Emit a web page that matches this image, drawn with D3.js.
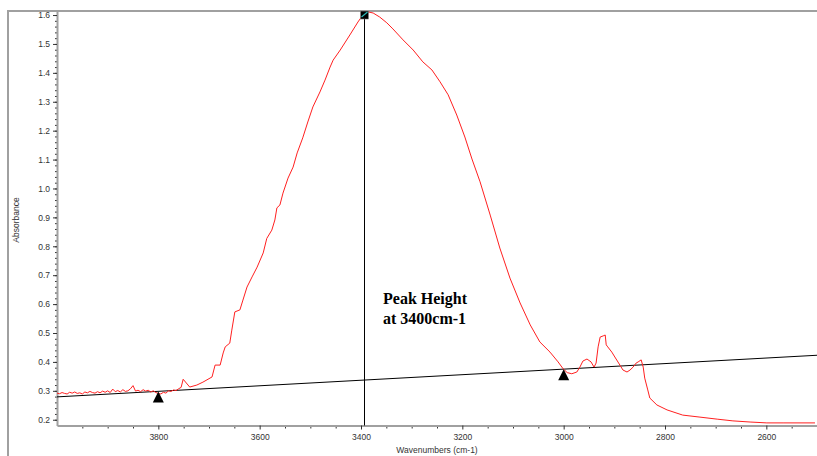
<!DOCTYPE html>
<html>
  <head>
    <meta charset="utf-8">
    <title>Peak Height</title>
    <style>
      body { margin: 0; background: white; }
      svg { display: block; }
      .axis text { font: 8.5px "Liberation Sans", Arial, sans-serif; fill: #333; }
      .axis path { stroke: #a0a0a0; stroke-width: 2; }
      .axis line { stroke: #333; }
      .axisLabel { font: 8.5px "Liberation Sans", Arial, sans-serif; fill: #333; }
      .note { font: bold 16px "Liberation Serif", "Times New Roman", serif; fill: #000; }
    </style>
  </head>
  <body>
  <svg id="chart"></svg>
  <script src="https://d3js.org/d3.v7.min.js"></script>
  <script>

  // spectrum: wavenumber (cm-1) and absorbance
  var wavenumbers = [4000,3995,3990,3985,3980,3975,3970,3965,3960,3955,3950,3945,3940,3935,3930,3925,3920,3915,3910,3905,3900,3895,3890,3885,3880,3875,3870,3865,3860,3855,3850,3845,3840,3835,3830,3825,3820,3815,3810,3805,3800,3795,3790,3785,3780,3775,3770,3765,3760,3755,
    3751,3738,3724,3712,3694,3688,3678,3672,3668,3659,3655,3649,3639,3633,3625,3615,3605,3593,3586,
    3576,3570,3566,3560,3554,3544,3534,3526,3515,3505,3495,3481,3471,3461,3455,3441,3422,3406,3396,3386,3376,3363,3349,3337,3317,3297,3278,3260,3244,3228,3211,3195,3181,
    3165,3145,3126,3106,3086,3066,3047,3027,3011,3001,2993,2984,2974,2968,2962,2954,2946,2940,2936,2932,2928,2922,2918,2916,2913,2905,2899,2889,2883,2875,2869,2863,2857,2853,2847,2843,2840,2834,2830,
    2816,2796,2765,2731,2697,2666,2632,2599,2567,2504];
  var absorbance = [0.292,0.290,0.294,0.291,0.289,0.295,0.292,0.296,0.291,0.293,0.289,0.296,0.293,0.298,0.294,0.292,0.297,0.293,0.299,0.295,0.300,0.294,0.306,0.297,0.301,0.296,0.304,0.298,0.300,0.307,0.318,0.299,0.302,0.297,0.304,0.299,0.302,0.296,0.300,0.294,0.291,0.289,0.295,0.292,0.300,0.298,0.303,0.301,0.307,0.312,
    0.340,0.313,0.320,0.330,0.348,0.389,0.389,0.431,0.452,0.465,0.510,0.573,0.580,0.614,0.659,0.694,0.728,0.777,0.827,
    0.856,0.891,0.933,0.943,0.984,1.036,1.074,1.123,1.175,1.230,1.282,1.334,1.375,1.420,1.444,1.479,1.531,1.576,1.601,1.611,1.607,1.593,1.573,1.552,1.514,1.479,1.438,1.410,1.369,1.324,1.254,1.178,1.102,
    1.023,0.908,0.794,0.690,0.604,0.528,0.469,0.434,0.400,0.376,0.363,0.359,0.365,0.382,0.403,0.410,0.400,0.382,0.396,0.452,0.486,0.490,0.493,0.459,0.452,0.434,0.417,0.389,0.372,0.365,0.372,0.382,0.396,0.400,0.407,0.382,0.344,0.303,0.275,
    0.251,0.234,0.216,0.209,0.202,0.196,0.192,0.189,0.189,0.189];

  // baseline drawn under the peak
  var baselineX = [4000, 2500];
  var baselineY = [0.279, 0.423];

  // baseline anchor points and the peak
  var anchorX = [3800, 3000];
  var anchorY = [0.298, 0.375];
  var peakX = 3394;
  var peakY = 1.600;

  var xTicks = [3800, 3600, 3400, 3200, 3000, 2800, 2600];
  var yTicks = [0.2, 0.3, 0.4, 0.5, 0.6, 0.7, 0.8, 0.9, 1.0, 1.1, 1.2, 1.3, 1.4, 1.5, 1.6];
  var noteLines = ["Peak Height", "at 3400cm-1"];

  var width = 817, height = 456;
  var margin = {top: 11, right: 0, bottom: 30.5, left: 57};

  var svg = d3.select("#chart")
    .attr("width", width)
    .attr("height", height);

  var x = d3.scaleLinear()
    .domain([4000, 2500])
    .range([margin.left, width - margin.right]);

  var y = d3.scaleLinear()
    .domain([0.18, 1.614])
    .range([height - margin.bottom, margin.top]);

  // outer frame (left and top)
  svg.append("path")
    .attr("d", "M8," + height + "V" + margin.top + "H" + width)
    .attr("fill", "none")
    .attr("stroke", "#a0a0a0")
    .attr("stroke-width", 2);

  var minorX = d3.range(3950, 2500, -50).filter(function(d) { return xTicks.indexOf(d) < 0; });
  var minorY = d3.range(0.2, 1.6101, 0.02).map(function(d) { return +d.toFixed(2); });

  // minor ticks first, then the major axes on top
  svg.append("g")
    .attr("class", "axis")
    .attr("transform", "translate(0," + y.range()[0] + ")")
    .call(d3.axisBottom(x).tickValues(minorX).tickSize(3).tickFormat(""))
    .call(function(g) { g.select(".domain").remove(); });

  svg.append("g")
    .attr("class", "axis")
    .attr("transform", "translate(" + margin.left + ",0)")
    .call(d3.axisLeft(y).tickValues(minorY).tickSize(2).tickFormat(""))
    .call(function(g) { g.select(".domain").remove(); });

  svg.append("g")
    .attr("class", "axis")
    .attr("transform", "translate(0," + y.range()[0] + ")")
    .call(d3.axisBottom(x).tickValues(xTicks).tickSize(4).tickSizeOuter(0).tickPadding(4).tickFormat(d3.format("d")));

  svg.append("g")
    .attr("class", "axis")
    .attr("transform", "translate(" + margin.left + ",0)")
    .call(d3.axisLeft(y).tickValues(yTicks).tickSize(4).tickSizeOuter(0).tickPadding(3).tickFormat(d3.format(".1f")));

  svg.append("text")
    .attr("class", "axisLabel")
    .attr("transform", "rotate(-90)")
    .attr("x", -220)
    .attr("y", 19)
    .style("text-anchor", "middle")
    .text("Absorbance");

  svg.append("text")
    .attr("class", "axisLabel")
    .attr("x", 437)
    .attr("y", 453)
    .style("text-anchor", "middle")
    .text("Wavenumbers (cm-1)");

  // peak height line
  svg.append("line")
    .attr("x1", Math.round(x(peakX)) + 0.5).attr("x2", Math.round(x(peakX)) + 0.5)
    .attr("y1", y(peakY)).attr("y2", y(0.18))
    .attr("stroke", "#000")
    .attr("stroke-width", 1);

  // baseline
  svg.append("line")
    .attr("x1", x(baselineX[0])).attr("y1", y(baselineY[0]))
    .attr("x2", x(baselineX[1])).attr("y2", y(baselineY[1]))
    .attr("stroke", "#000")
    .attr("stroke-width", 1);

  // spectrum
  var line = d3.line()
    .x(function(d, i) { return x(wavenumbers[i]); })
    .y(function(d) { return y(d); });

  svg.append("path")
    .datum(absorbance)
    .attr("d", line)
    .attr("fill", "none")
    .attr("stroke", "#ff2020")
    .attr("stroke-width", 1);

  // triangles on the baseline anchors
  svg.selectAll(".anchor")
    .data(anchorX)
    .enter().append("path")
    .attr("class", "anchor")
    .attr("transform", function(d, i) { return "translate(" + x(d) + "," + y(anchorY[i]) + ")"; })
    .attr("d", "M0,0L5.5,11L-5.5,11Z")
    .attr("fill", "#000");

  // square on the peak
  var px = Math.round(x(peakX)) + 0.5, py = y(peakY);
  svg.append("rect")
    .attr("x", px - 4).attr("y", py - 4)
    .attr("width", 8).attr("height", 8)
    .attr("fill", "#000")
    .attr("stroke", "#888")
    .attr("stroke-width", 0.5);
  svg.append("line")
    .attr("x1", px - 3).attr("y1", py + 2)
    .attr("x2", px + 3).attr("y2", py - 3)
    .attr("stroke", "#2ab7b7")
    .attr("stroke-width", 1.2);

  svg.selectAll(".note")
    .data(noteLines)
    .enter().append("text")
    .attr("class", "note")
    .attr("x", 383)
    .attr("y", function(d, i) { return 304 + i * 20; })
    .text(function(d) { return d; });

  </script>
  </body>
</html>
